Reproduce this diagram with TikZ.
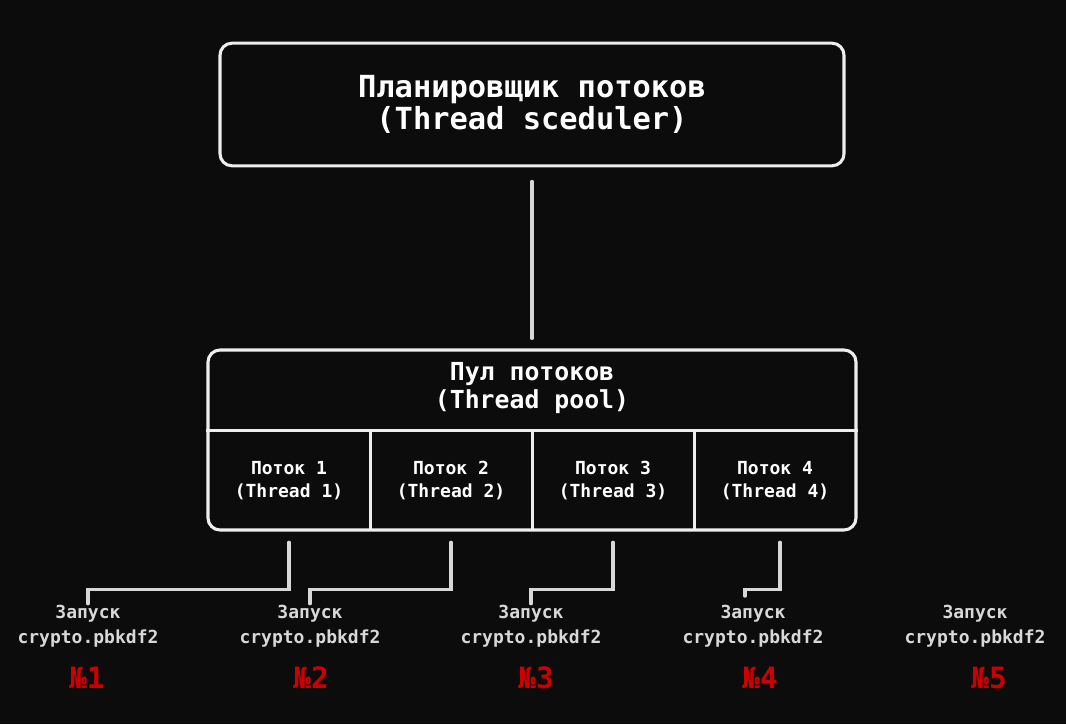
\documentclass[tikz,border=0pt]{standalone}
\usepackage{fontspec}
\setmainfont{DejaVu Sans Mono}
\usetikzlibrary{positioning}
\definecolor{bgdark}{RGB}{12,12,12}
\definecolor{boxline}{RGB}{238,238,238}
\definecolor{linkgrey}{RGB}{216,216,216}
\definecolor{numred}{RGB}{204,0,0}

\begin{document}
\begin{tikzpicture}[x=0.75pt, y=-0.75pt,
    box/.style={draw=boxline, line width=2.3pt, rounded corners=9pt, fill=bgdark},
    cell/.style={minimum width=121.5pt, minimum height=74.25pt, inner sep=0pt, align=center,
      text=white, font=\fontsize{13.5}{17}\selectfont\bfseries},
    link/.style={draw=linkgrey, line width=2.3pt, line cap=round},
    launch/.style={text=linkgrey, align=center, inner sep=0pt, font=\fontsize{13.5}{18.75}\selectfont\bfseries},
    num/.style={text=numred, inner sep=0pt, font=\fontsize{22}{22}\selectfont\bfseries}]

    % background
    \fill[bgdark] (0,0) rectangle (1066,724);

    % scheduler
    \node[box, minimum width=468pt, minimum height=92pt, align=center, text=white,
      font=\fontsize{22.8}{24}\selectfont\bfseries] (sched) at (532,104.5)
      {Планировщик потоков\\(Thread sceduler)};

    % pool and its title
    \node[box, minimum width=486pt, minimum height=135pt] (pool) at (532,440) {};
    \node[align=center, text=white, font=\fontsize{18.6}{21}\selectfont\bfseries] (title) at (532,388)
      {Пул потоков\\(Thread pool)};
    \draw[link, shorten <=10.5pt, shorten >=7.5pt] (sched.south) -- (pool.north);

    % threads
    \foreach \i/\x in {1/289, 2/451, 3/613, 4/775}
      \node[cell] (t\i) at (\x,480.5) {Поток \i\\(Thread \i)};
    \draw[boxline, line width=2.3pt] (pool.west |- t1.north) -- (pool.east |- t1.north);
    \foreach \i in {1,2,3}
      \draw[boxline, line width=2.3pt] (t\i.north east) -- (t\i.south east);

    % launches
    \foreach \i/\x/\nx in {1/88/87, 2/310/311, 3/531/536, 4/753/760, 5/975/989} {
      \node[launch] (l\i) at (\x,626.5) {Запуск\\crypto.pbkdf2};
      \node[num] (n\i) at (\nx,678) {№\i};
    }

    % thread -> launch
    \foreach \i in {1,2,3}
      \draw[link] ([yshift=-9pt]t\i.south) -- ++(0,47) -| ([yshift=1pt]l\i.north);
    \draw[link] ([xshift=3.75pt, yshift=-9pt]t4.south) -- ++(0,47) -| ([xshift=-6pt, yshift=6.75pt]l4.north);
\end{tikzpicture}
\end{document}
